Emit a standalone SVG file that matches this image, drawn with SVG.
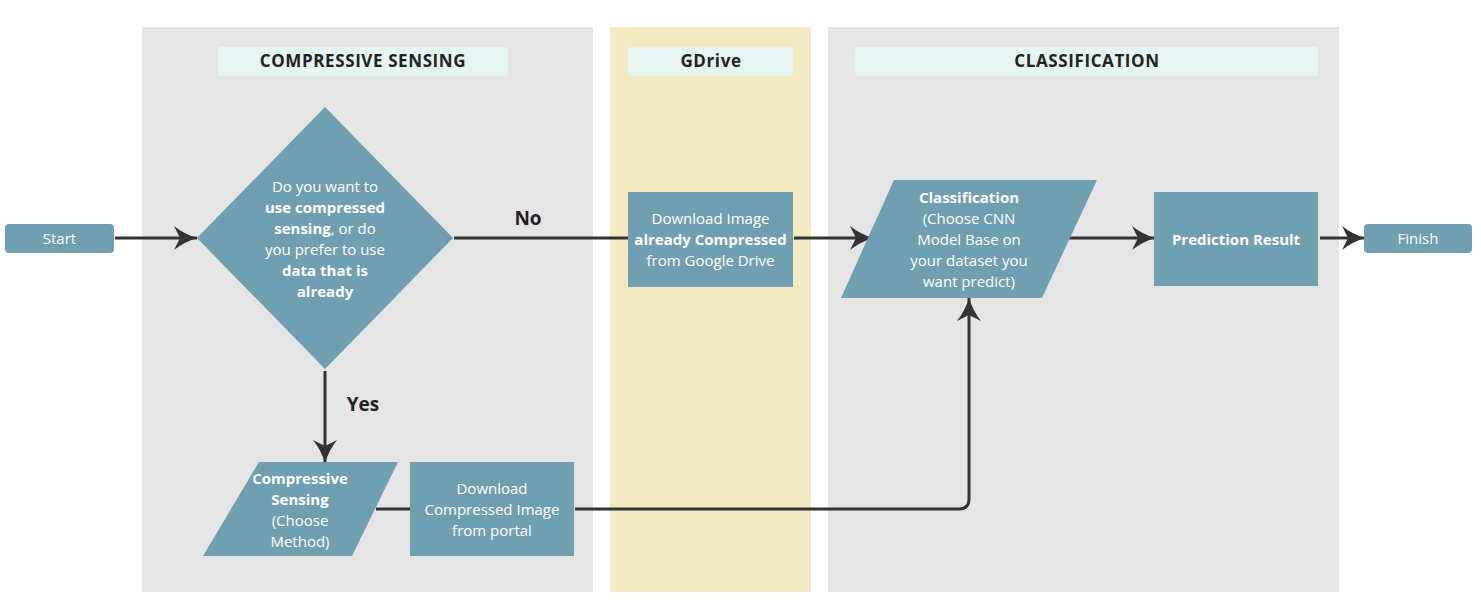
<svg xmlns="http://www.w3.org/2000/svg" width="1481" height="605" viewBox="0 0 1481 605">
<style>
.lane{fill:#E5E5E5}
.lane-y{fill:#F3EAC3}
.pill{fill:#E6F4F2}
.hdr{font-family:"Open Sans","Liberation Sans",sans-serif;font-size:17px;font-weight:bold;fill:#222;text-anchor:middle;letter-spacing:0.6px}
.node{fill:#6F9FB0}
.t{font-family:"Open Sans","Liberation Sans",sans-serif;font-size:15px;fill:#fff;text-anchor:middle}
.b{font-weight:bold}
.lbl{font-family:"Open Sans","Liberation Sans",sans-serif;font-size:19px;font-weight:bold;fill:#222;text-anchor:middle}
.conn{fill:none;stroke:#333;stroke-width:3}
</style>
<defs>
<marker id="arr" markerUnits="userSpaceOnUse" markerWidth="26" markerHeight="26" viewBox="0 0 26 26" refX="24" refY="13" orient="auto">
<path d="M1,1 Q11,9 24,13 Q11,17 1,25 L7,13 z" fill="#333"/>
</marker>
</defs>
<g id="lanes">
<rect class="lane" x="142" y="27" width="451" height="565"/>
<rect class="lane-y" x="610" y="27" width="201" height="565"/>
<rect class="lane" x="828" y="27" width="511" height="565"/>
<rect class="pill" x="218" y="47" width="290" height="29" rx="4"/>
<rect class="pill" x="628" y="47" width="165" height="29" rx="4"/>
<rect class="pill" x="855" y="47" width="463" height="29" rx="4"/>
<text class="hdr" x="363" y="67">COMPRESSIVE SENSING</text>
<text class="hdr" x="711" y="67">GDrive</text>
<text class="hdr" x="1087" y="67">CLASSIFICATION</text>
</g>
<g id="connectors">
<path class="conn" d="M115,238 H197" marker-end="url(#arr)"/>
<path class="conn" d="M454,238 H628"/>
<path class="conn" d="M794,238 H873" marker-end="url(#arr)"/>
<path class="conn" d="M1069,238 H1155" marker-end="url(#arr)"/>
<path class="conn" d="M1320,238 H1365" marker-end="url(#arr)"/>
<path class="conn" d="M325,371 V463" marker-end="url(#arr)"/>
<path class="conn" d="M376,509 H410"/>
<path class="conn" d="M575,509 H959 Q969,509 969,499 V298" marker-end="url(#arr)"/>
<text class="lbl" x="528" y="225">No</text>
<text class="lbl" x="363" y="411">Yes</text>
</g>
<g id="start">
<rect class="node" x="5" y="224" width="109" height="29" rx="4"/>
<text class="t" x="59.5" y="244">Start</text>
</g>
<g id="decision">
<polygon class="node" points="325,107 453,238 325,369 197,238"/>
<text class="t" x="325" y="192">Do you want to</text>
<text class="t" x="325" y="213"><tspan class="b">use compressed</tspan></text>
<text class="t" x="325" y="234"><tspan class="b">sensing</tspan>, or do</text>
<text class="t" x="325" y="255">you prefer to use</text>
<text class="t" x="325" y="276"><tspan class="b">data that is</tspan></text>
<text class="t" x="325" y="297"><tspan class="b">already</tspan></text>
</g>
<g id="gdrive-download">
<rect class="node" x="628" y="192" width="165" height="95"/>
<text class="t" x="710.5" y="224">Download Image</text>
<text class="t b" x="710.5" y="245">already Compressed</text>
<text class="t" x="710.5" y="266">from Google Drive</text>
</g>
<g id="classification">
<polygon class="node" points="894,180 1097,180 1042,298 841,298"/>
<text class="t b" x="969" y="203">Classification</text>
<text class="t" x="969" y="224">(Choose CNN</text>
<text class="t" x="969" y="245">Model Base on</text>
<text class="t" x="969" y="266">your dataset you</text>
<text class="t" x="969" y="287">want predict)</text>
</g>
<g id="prediction">
<rect class="node" x="1154" y="192" width="164" height="94"/>
<text class="t b" x="1236" y="245">Prediction Result</text>
</g>
<g id="finish">
<rect class="node" x="1364" y="224" width="108" height="29" rx="4"/>
<text class="t" x="1418" y="244">Finish</text>
</g>
<g id="cs-method">
<polygon class="node" points="259,462 398,462 352,556 203,556"/>
<text class="t b" x="300" y="484">Compressive</text>
<text class="t b" x="300" y="505">Sensing</text>
<text class="t" x="300" y="526">(Choose</text>
<text class="t" x="300" y="547">Method)</text>
</g>
<g id="portal-download">
<rect class="node" x="410" y="462" width="164" height="94"/>
<text class="t" x="492" y="494">Download</text>
<text class="t" x="492" y="515">Compressed Image</text>
<text class="t" x="492" y="536">from portal</text>
</g>
</svg>
